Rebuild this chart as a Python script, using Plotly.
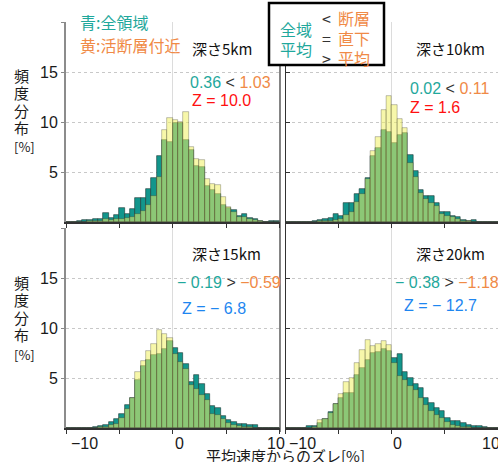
import plotly.graph_objects as go
from plotly.subplots import make_subplots

# ---------------- data ----------------
BIN_CENTERS = [-9.75, -9.25, -8.75, -8.25, -7.75, -7.25, -6.75, -6.25, -5.75, -5.25,
               -4.75, -4.25, -3.75, -3.25, -2.75, -2.25, -1.75, -1.25, -0.75, -0.25,
               0.25, 0.75, 1.25, 1.75, 2.25, 2.75, 3.25, 3.75, 4.25, 4.75,
               5.25, 5.75, 6.25, 6.75, 7.25, 7.75, 8.25, 8.75, 9.25, 9.75]
BIN_WIDTH = 0.5

ALL_5KM = [0, 0.05, 0.15, 0.2, 0.25, 0.3, 0.35, 0.95, 0.4, 0.75,
           1.45, 0.85, 1.3, 2.45, 2.4, 3.3, 4.4, 6.6, 8.2, 8.0,
           9.9, 9.9, 8.2, 7.2, 5.6, 5.5, 3.6, 3.2, 2.8, 1.7,
           1.4, 1.2, 0.6, 0.8, 0.4, 0.3, 0.1, 0.05, 0.15, 0.1]
FAULT_5KM = [0, 0, 0.05, 0.05, 0.1, 0.1, 0.15, 0.3, 0.2, 0.3,
             0.35, 0.4, 0.5, 0.8, 1.1, 1.7, 2.6, 4.5, 9.2, 10.4,
             10.2, 10.0, 11.0, 7.5, 6.3, 6.2, 4.3, 3.8, 3.7, 2.5,
             1.5, 1.0, 0.5, 0.5, 0.3, 0.2, 0.1, 0.05, 0.05, 0.05]

ALL_10KM = [0, 0, 0, 0, 0.05, 0.15, 0.2, 0.3, 0.4, 0.8,
            0.6, 1.9, 1.9, 2.8, 3.3, 4.4, 6.6, 7.4, 9.2, 9.0,
            7.9, 8.7, 8.9, 6.7, 5.1, 3.2, 2.6, 2.6, 1.9, 1.0,
            1.0, 0.65, 0.5, 0.25, 0.15, 0.25, 0.05, 0, 0, 0]
FAULT_10KM = [0, 0, 0, 0, 0, 0.05, 0.1, 0.1, 0.15, 0.2,
              0.3, 0.7, 1.0, 2.0, 2.8, 4.3, 7.1, 8.5, 11.2, 12.6,
              11.7, 10.3, 9.4, 5.9, 4.5, 2.9, 2.3, 1.9, 1.6, 0.8,
              0.6, 0.5, 0.3, 0.15, 0.1, 0.05, 0, 0, 0, 0]

ALL_15KM = [0, 0, 0, 0, 0.05, 0.1, 0.2, 0.3, 0.6, 0.9,
            1.45, 2.3, 3.0, 4.8, 6.2, 6.8, 7.3, 7.4, 7.9, 8.7,
            8.0, 7.5, 6.4, 4.6, 5.3, 4.4, 3.4, 2.2, 2.0, 1.2,
            0.8, 0.6, 0.45, 0.4, 0.35, 0.3, 0.05, 0, 0, 0]
FAULT_15KM = [0, 0, 0, 0, 0, 0.05, 0.1, 0.15, 0.3, 0.45,
              1.0, 1.9, 3.0, 5.6, 6.7, 7.7, 8.4, 9.8, 9.4, 9.0,
              7.4, 6.6, 5.9, 4.3, 3.9, 3.3, 2.8, 1.4, 1.3, 0.9,
              0.5, 0.3, 0.2, 0.15, 0.1, 0.05, 0, 0, 0, 0]

ALL_20KM = [0.02, 0.02, 0.03, 0.05, 0.2, 0.2, 0.5, 0.9, 1.6, 2.4,
            3.0, 3.5, 3.5, 5.3, 6.0, 6.8, 7.5, 7.6, 7.9, 7.7,
            7.0, 7.4, 5.6, 5.0, 4.4, 4.0, 3.0, 2.5, 2.0, 1.7,
            1.0, 0.7, 0.7, 0.5, 0.3, 0.25, 0.2, 0.15, 0.05, 0.02]
FAULT_20KM = [0, 0, 0, 0.02, 0.05, 0.15, 0.8, 0.9, 1.5, 2.4,
              3.4, 4.6, 5.0, 6.5, 7.8, 8.8, 8.2, 8.4, 8.7, 8.3,
              6.5, 5.2, 4.8, 4.2, 3.8, 3.0, 2.3, 1.7, 1.3, 1.0,
              0.6, 0.3, 0.2, 0.15, 0.1, 0.05, 0.05, 0.02, 0, 0]

DEPTH_LABELS = ["深さ5km", "深さ10km", "深さ15km", "深さ20km"]
MEAN_ALL = ["0.36", "0.02", "− 0.19", "− 0.38"]
MEAN_FAULT = ["1.03", "0.11", "−0.59", "−1.18"]
MEAN_SIGN = ["&lt;", "&lt;", "&gt;", "&gt;"]
Z_TEXT = ["Z = 10.0", "Z = 1.6", "Z = − 6.8", "Z = − 12.7"]
Z_COLOR = ["#ff1010", "#ff1010", "#1e86f0", "#1e86f0"]

Y_TICKS = [5, 10, 15, 20]
Y_TICK_TEXT = ["5", "10", "15", ""]
X_TICK_VALUES = [-10, 0, 10]
X_TICK_TEXT = ["−10", "0", "10"]
X_TITLE = "平均速度からのズレ[%]"
Y_TITLE_CHARS = ["頻", "度", "分", "布"]

# ---------------- style ----------------
W, H = 498, 462
TEAL = "rgb(18,150,140)"
TEAL_TXT = "#1fa89c"
ORANGE_TXT = "#f08a46"
YELLOW = "rgba(240,240,100,0.55)"
FONT = "Noto Sans CJK JP"
NUMFONT = "Liberation Sans"

def px(x):
    return x / W

def py(y):
    return 1 - y / H

fig = make_subplots(rows=2, cols=2)

panels = [(1, 1, ALL_5KM, FAULT_5KM), (1, 2, ALL_10KM, FAULT_10KM),
          (2, 1, ALL_15KM, FAULT_15KM), (2, 2, ALL_20KM, FAULT_20KM)]
for r, c, a, f in panels:
    fig.add_trace(go.Bar(x=BIN_CENTERS, y=a, width=BIN_WIDTH,
                         marker=dict(color=TEAL, line=dict(color="rgba(30,60,55,0.9)", width=0.7)),
                         showlegend=False), row=r, col=c)
    fig.add_trace(go.Bar(x=BIN_CENTERS, y=f, width=BIN_WIDTH,
                         marker=dict(color=YELLOW, line=dict(color="rgba(60,60,40,0.45)", width=0.7)),
                         showlegend=False), row=r, col=c)

fig.update_layout(barmode="overlay", bargap=0, width=W, height=H,
                  margin=dict(l=0, r=0, t=0, b=0),
                  paper_bgcolor="white", plot_bgcolor="white",
                  font=dict(family=FONT, size=15, color="#1a1a1a"))

XD = {1: [px(66), px(279.5)], 2: [px(285.5), 1.0]}
YD = {1: [py(222), py(22)], 2: [py(428), py(228)]}

for r in (1, 2):
    for c in (1, 2):
        fig.update_xaxes(row=r, col=c, domain=XD[c], range=[-10, 10],
                         tickvals=X_TICK_VALUES, showticklabels=False,
                         ticks="outside", ticklen=4, tickcolor="#333",
                         showline=True, linecolor="#333", linewidth=1.5,
                         showgrid=True, gridcolor="#dcdcdc", gridwidth=1,
                         zeroline=False,
                         minor=dict(tickvals=[-5, 5], ticks="outside", ticklen=4,
                                    tickcolor="#333", showgrid=False))
        if c == 1:
            fig.update_yaxes(row=r, col=c, domain=YD[r], range=[0, 20],
                             tickvals=Y_TICKS, ticktext=Y_TICK_TEXT,
                             tickfont=dict(family=NUMFONT, size=16, color="#1a1a1a"),
                             ticks="outside", ticklen=3, tickcolor="#888",
                             showline=True, linecolor="#8c8c8c", linewidth=2,
                             showgrid=True, gridcolor="#c8c8c8", griddash="dot",
                             zeroline=False)
        else:
            fig.update_yaxes(row=r, col=c, domain=YD[r], range=[0, 20],
                             tickvals=Y_TICKS, showticklabels=False,
                             ticks="inside", ticklen=4, tickcolor="#333",
                             showline=True, linecolor="#333", linewidth=1.2,
                             showgrid=True, gridcolor="#c8c8c8", griddash="dot",
                             zeroline=False)

shapes = []
# right frame of left panels
shapes.append(dict(type="line", xref="paper", yref="paper", x0=px(280), x1=px(280),
                   y0=py(432), y1=py(60), line=dict(color="#333", width=1.2)))
# legend box
shapes.append(dict(type="rect", xref="paper", yref="paper", x0=px(269), x1=px(384),
                   y0=py(65), y1=py(3), fillcolor="white",
                   line=dict(color="black", width=2.5)))

ann = []

def text(x, y, s, color="#1a1a1a", size=15, anchor="center", family=FONT):
    ann.append(dict(x=px(x), y=py(y), xref="paper", yref="paper", text=s, showarrow=False,
                    xanchor=anchor, yanchor="middle",
                    font=dict(color=color, size=size, family=family)))

# top-left legend text
text(78, 22, "青:全領域", TEAL_TXT, 16, "left")
text(78, 45, "黄:活断層付近", ORANGE_TXT, 16, "left")

# legend box text
text(296, 29, "全域", TEAL_TXT, 16)
text(296, 49, "平均", TEAL_TXT, 16)
for yy, s in zip([18, 38, 58], ["&lt;", "=", "&gt;"]):
    text(326, yy, s, "#333", 16)
for yy, s in zip([18, 38, 58], ["断層", "直下", "平均"]):
    text(354, yy, s, ORANGE_TXT, 16)

# per-panel annotations
pos = [
    dict(dx=222, dy=48, mx=188, my=82, zx=190, zy=101),
    dict(dx=450, dy=48, mx=408, my=88, zx=408, zy=108),
    dict(dx=226, dy=253, mx=175, my=282, zx=180, zy=308),
    dict(dx=450, dy=253, mx=393, my=282, zx=402, zy=305),
]
for i, p in enumerate(pos):
    text(p["dx"], p["dy"], DEPTH_LABELS[i], "#111", 15)
    s = (f"<span style='color:{TEAL_TXT}'>{MEAN_ALL[i]}</span> "
         f"<span style='color:#333'>{MEAN_SIGN[i]}</span> "
         f"<span style='color:{ORANGE_TXT}'>{MEAN_FAULT[i]}</span>")
    text(p["mx"], p["my"], s, "#333", 16, "left", NUMFONT)
    text(p["zx"], p["zy"], Z_TEXT[i], Z_COLOR[i], 16, "left", NUMFONT)

# y-axis titles (stacked characters)
for top in (75, 282):
    for k, ch in enumerate(Y_TITLE_CHARS):
        text(21, top + k * 17.5, ch, "#1a1a1a", 15)
    text(24, top + 72, "[%]", "#1a1a1a", 13)

# x tick labels on bottom panels
for x0, tick_px in ((66, [84.5, 179, 276]), (286, [302, 397, 491])):
    for lab, xx in zip(X_TICK_TEXT, tick_px):
        text(xx, 443, lab, "#1a1a1a", 16, "center", NUMFONT)

# x title
text(285, 455, X_TITLE, "#1a1a1a", 15)

fig.update_layout(shapes=shapes, annotations=ann)
fig.write_html("out.html", config={"displayModeBar": False},
               post_script="document.body.style.margin='0';document.body.style.padding='0';")
